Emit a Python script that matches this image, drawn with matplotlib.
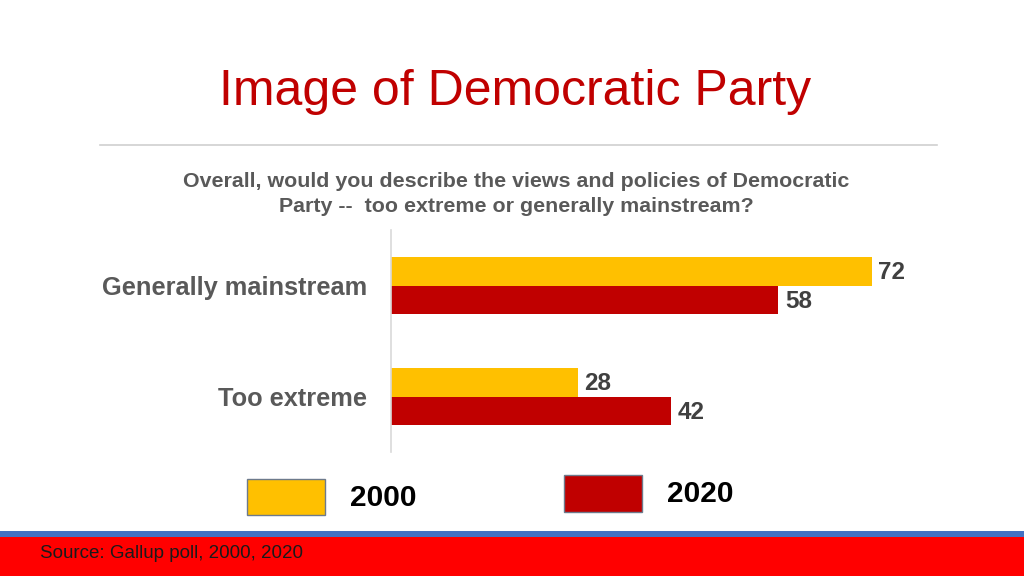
import matplotlib
matplotlib.use("Agg")
import matplotlib.pyplot as plt
from matplotlib.patches import Rectangle
import numpy as np

plt.rcParams['font.family'] = ['Liberation Sans', 'DejaVu Sans']

categories = ["Too extreme", "Generally mainstream"]
series_names = ["2000", "2020"]
values_2000 = [28, 72]
values_2020 = [42, 58]
colors = ["#FFC000", "#C00000"]

W, H = 1024, 576
fig = plt.figure(figsize=(W / 100, H / 100), dpi=100)
fig.patch.set_facecolor("white")

def fx(px):
    return px / W

def fy(py):
    return 1 - py / H

# Title
fig.text(fx(515), fy(92), "Image of Democratic Party", ha="center", va="center",
         fontsize=36, color="#C00000")
# Separator line
fig.add_artist(plt.Line2D([fx(100), fx(937)], [fy(145), fy(145)], color="#D0D0D0", lw=1.2))
# Subtitle
fig.text(fx(516), fy(194), "Overall, would you describe the views and policies of Democratic\nParty --  too extreme or generally mainstream?",
         ha="center", va="center", fontsize=15.4, fontweight="bold", color="#595959",
         linespacing=1.45)

# Axes
ax_left, ax_right = 391, 925
ax_top, ax_bottom = 230, 452
ax = fig.add_axes([fx(ax_left), fy(ax_bottom), (ax_right - ax_left) / W, (ax_bottom - ax_top) / H])
y = np.arange(len(categories))
h = 0.26
bars1 = ax.barh(y + h / 2, values_2000, height=h, color=colors[0])
bars2 = ax.barh(y - h / 2, values_2020, height=h, color=colors[1])
ax.set_xlim(0, 80)
ax.set_ylim(-0.5, 1.5)
for s in ["top", "right", "bottom"]:
    ax.spines[s].set_visible(False)
ax.spines["left"].set_color("#D9D9D9")
ax.spines["left"].set_linewidth(1.2)
ax.set_xticks([])
ax.set_yticks(y)
ax.set_yticklabels(categories, fontsize=18.3, fontweight="bold", color="#595959")
ax.tick_params(axis="y", length=0, pad=17)
ax.patch.set_alpha(0)

for bars, vals in ((bars1, values_2000), (bars2, values_2020)):
    for b, v in zip(bars, vals):
        ax.text(v + 1.0, b.get_y() + b.get_height() / 2 - 0.01, str(v), ha="left", va="center",
                fontsize=17.5, fontweight="bold", color="#404040")

# Legend
leg_boxes = [(247, 479, 78, 36), (564, 475, 78, 37)]
leg_text_pos = [(350, 498), (667, 494)]
for (lx, ly, lw, lh), c, (tx, ty), name in zip(leg_boxes, colors, leg_text_pos, series_names):
    fig.add_artist(Rectangle((fx(lx), fy(ly + lh)), lw / W, lh / H, transform=fig.transFigure,
                             facecolor=c, edgecolor="#6D7A8C", lw=1.0))
    fig.text(fx(tx), fy(ty), name, ha="left", va="center", fontsize=21.5,
             fontweight="bold", color="black")

# Bottom bands
fig.add_artist(Rectangle((0, fy(537)), 1, 6 / H, transform=fig.transFigure,
                         facecolor="#4472C4", edgecolor="none"))
fig.add_artist(Rectangle((0, 0), 1, fy(537), transform=fig.transFigure,
                         facecolor="#FF0000", edgecolor="none"))
fig.text(fx(40), fy(553), "Source: Gallup poll, 2000, 2020", ha="left", va="center",
         fontsize=13.5, color="#1A1A1A")

fig.savefig("out.png", dpi=100)
